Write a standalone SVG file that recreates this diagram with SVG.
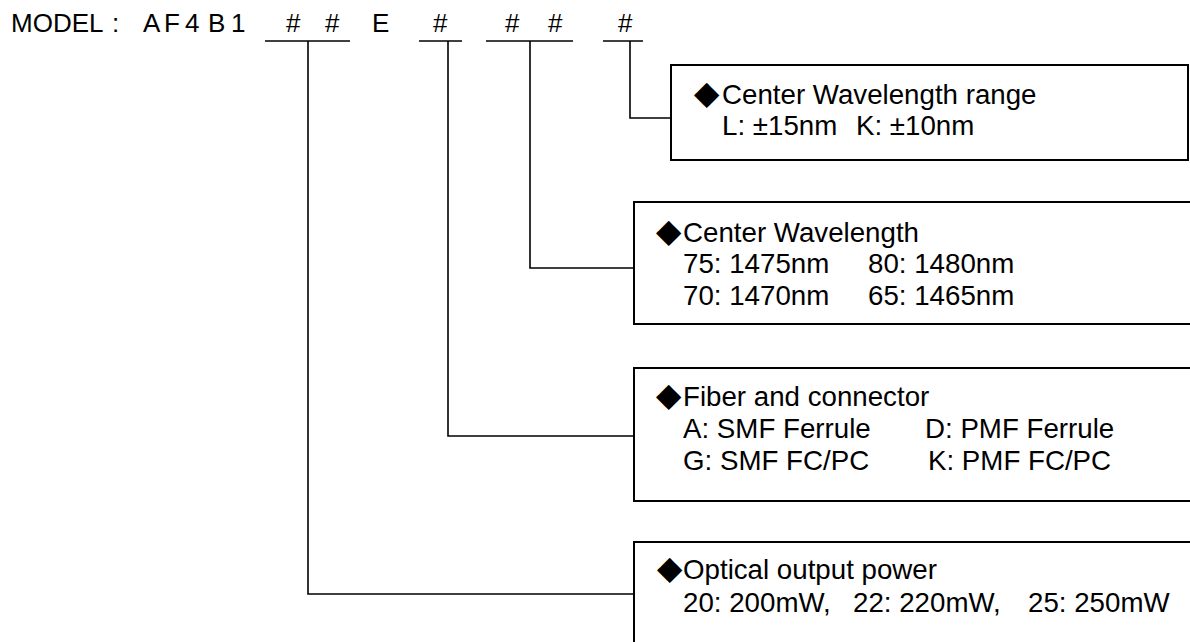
<svg xmlns="http://www.w3.org/2000/svg" width="1190" height="642" viewBox="0 0 1190 642">
<style>
  .hdr { font-family: "Liberation Sans", Arial, sans-serif; font-size: 26px; fill: #000; }
  .txt { font-family: "Liberation Sans", Arial, sans-serif; font-size: 27.7px; fill: #000; }
  .dia { font-family: "DejaVu Sans", sans-serif; font-size: 33px; }
  .box { fill: #fff; stroke: #000; stroke-width: 2; }
  .conn { fill: none; stroke: #000; stroke-width: 1.6; }
</style>
<rect x="0" y="0" width="1190" height="642" fill="#fff"/>
<g id="header">
  <text class="hdr" y="32"><tspan x="11">MODEL</tspan><tspan x="112">:</tspan><tspan x="143">A</tspan><tspan x="164">F</tspan><tspan x="185">4</tspan><tspan x="208">B</tspan><tspan x="231">1</tspan><tspan x="286">#</tspan><tspan x="325">#</tspan><tspan x="372">E</tspan><tspan x="433">#</tspan><tspan x="505">#</tspan><tspan x="548">#</tspan><tspan x="618">#</tspan></text>
</g>
<g id="connectors">
  <polyline class="conn" points="603,41 643,41"/>
  <polyline class="conn" points="630,41 630,118 671,118"/>
  <polyline class="conn" points="486,41 573,41"/>
  <polyline class="conn" points="530,41 530,268 634,268"/>
  <polyline class="conn" points="419,41 462,41"/>
  <polyline class="conn" points="448,41 448,436 634,436"/>
  <polyline class="conn" points="265,41 350,41"/>
  <polyline class="conn" points="308,41 308,594 634,594"/>
</g>
<g id="range">
  <rect class="box" x="671" y="65" width="517" height="95"/>
  <text class="txt" y="104"><tspan class="dia" x="694">◆</tspan><tspan x="722">Center Wavelength range</tspan></text>
  <text class="txt" y="135"><tspan x="722">L: ±15nm</tspan><tspan x="856">K: ±10nm</tspan></text>
</g>
<g id="wavelength">
  <rect class="box" x="634" y="202" width="570" height="122"/>
  <text class="txt" y="242"><tspan class="dia" x="656">◆</tspan><tspan x="683">Center Wavelength</tspan></text>
  <text class="txt" y="273"><tspan x="683">75: 1475nm</tspan><tspan x="868">80: 1480nm</tspan></text>
  <text class="txt" y="305"><tspan x="683">70: 1470nm</tspan><tspan x="868">65: 1465nm</tspan></text>
</g>
<g id="fiber">
  <rect class="box" x="634" y="368" width="570" height="133"/>
  <text class="txt" y="406"><tspan class="dia" x="656">◆</tspan><tspan x="683">Fiber and connector</tspan></text>
  <text class="txt" y="438"><tspan x="683">A: SMF Ferrule</tspan><tspan x="925">D: PMF Ferrule</tspan></text>
  <text class="txt" y="470"><tspan x="683">G: SMF FC/PC</tspan><tspan x="928">K: PMF FC/PC</tspan></text>
</g>
<g id="power">
  <rect class="box" x="634" y="542" width="570" height="120"/>
  <text class="txt" y="579"><tspan class="dia" x="657">◆</tspan><tspan x="683">Optical output power</tspan></text>
  <text class="txt" y="612"><tspan x="683">20: 200mW,</tspan><tspan x="853">22: 220mW,</tspan><tspan x="1028">25: 250mW</tspan></text>
</g>
</svg>
